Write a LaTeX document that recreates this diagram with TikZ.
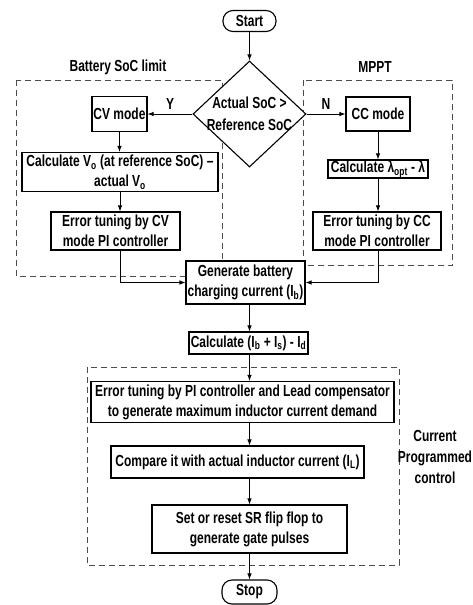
\documentclass[tikz,border=0pt]{standalone}
\usepackage{fontspec}
\setmainfont{Liberation Sans}[FakeStretch=0.75]
\usetikzlibrary{shapes.geometric,arrows.meta}
\begin{document}
\begin{tikzpicture}[x=1pt,y=-1pt,
  font=\fontsize{16}{20}\selectfont\bfseries,
  box/.style={draw, fill=white, line width=1.1pt, inner sep=1.5pt, align=center},
  term/.style={box, rounded corners=10pt},
  arr/.style={line width=0.9pt, -{Latex[length=6pt,width=4.5pt]}},
  grp/.style={draw=black!70, line width=1pt, dash pattern=on 6pt off 4pt},
  lbl/.style={inner sep=0pt, align=center}]
\useasboundingbox (0,0) rectangle (472,605);
\coordinate (ax) at (249.5,0);
% dashed groups
\draw[grp] (16,80) rectangle (222,276.5);
\draw[grp] (303,80) rectangle (452,265.5);
\draw[grp] (87,367) rectangle (399,565);
\node[lbl] (lbat) at (118,67) {Battery SoC limit};
\node[lbl] (lmppt) at (375,67) {MPPT};
\node[lbl, font=\fontsize{16}{21}\selectfont\bfseries] (lcpc) at (435,457) {Current\\Programmed\\control};
% nodes
\node[term, minimum width=53pt, minimum height=21pt] (start) at (249.5,21) {Start};
\node[diamond, draw, fill=white, line width=1.1pt, minimum width=113pt, minimum height=106pt, inner sep=0pt] (dec) at (249.5,114) {};
\node[lbl, font=\fontsize{16}{22}\selectfont\bfseries] (dect) at (249.5,114) {Actual SoC >\\Reference SoC};
\node[box, minimum width=55pt, minimum height=35pt] (cv) at (119.5,114) {CV mode};
\node[box, minimum width=64pt, minimum height=34pt] (cc) at (378,114) {CC mode};
\node[box, minimum width=196pt, minimum height=39pt] (calcv) at (120,172) {Calculate V\textsubscript{o} (at reference SoC) –\\actual V\textsubscript{o}};
\node[box, minimum width=100pt, minimum height=18pt, inner ysep=0.5pt] (calcl) at (378,169) {Calculate λ\textsubscript{opt} - λ};
\node[box, minimum width=129pt, minimum height=38pt] (errcv) at (115.5,231) {Error tuning by CV\\mode PI controller};
\node[box, minimum width=128pt, minimum height=38pt] (errcc) at (377,231) {Error tuning by CC\\mode PI controller};
\node[box, minimum width=119pt, minimum height=43pt] (gen) at (245.5,282.5) {Generate battery\\charging current (I\textsubscript{b})};
\node[box, minimum width=119pt, minimum height=22pt] (calcs) at (248.5,343) {Calculate (I\textsubscript{b} + I\textsubscript{s}) - I\textsubscript{d}};
\node[box, minimum width=303pt, minimum height=41pt] (errpi) at (242.5,402) {Error tuning by PI controller and Lead compensator\\to generate maximum inductor current demand};
\node[box, minimum width=253pt, minimum height=32pt] (cmp) at (237.5,462) {Compare it with actual inductor current (I\textsubscript{L})};
\node[box, minimum width=195pt, minimum height=48pt] (sr) at (249.5,529) {Set or reset SR flip flop to\\generate gate pulses};
\node[term, minimum width=55pt, minimum height=24pt] (stop) at (249.5,592) {Stop};
% connectors
\draw[arr] (start) -- (dec.north);
\draw[arr] (dec.west) -- node[lbl, above=4pt] (ly) {Y} (cv.east);
\draw[arr] (dec.east) -- node[lbl, above=4pt] (ln) {N} (cc.west);
\draw[arr] (cv.south) -- (cv.south |- calcv.north);
\draw[arr] (calcv.south) -- (calcv.south |- errcv.north);
\draw[arr] (cc.south -| calcl.north) -- (calcl.north);
\draw[arr] (calcl.south) -- (calcl.south |- errcc.north);
\draw[arr] (errcv.south -| calcv.south) |- (gen.west);
\draw[arr] (errcc.south -| calcl.south) |- (gen.east);
\draw[arr] (gen.south -| ax) -- (calcs.north -| ax);
\draw[arr] (calcs.south -| ax) -- (errpi.north -| ax);
\draw[arr] (errpi.south -| ax) -- (cmp.north -| ax);
\draw[arr] (cmp.south -| ax) -- (sr.north -| ax);
\draw[arr] (sr.south -| ax) -- (stop.north -| ax);
\end{tikzpicture}
\end{document}
